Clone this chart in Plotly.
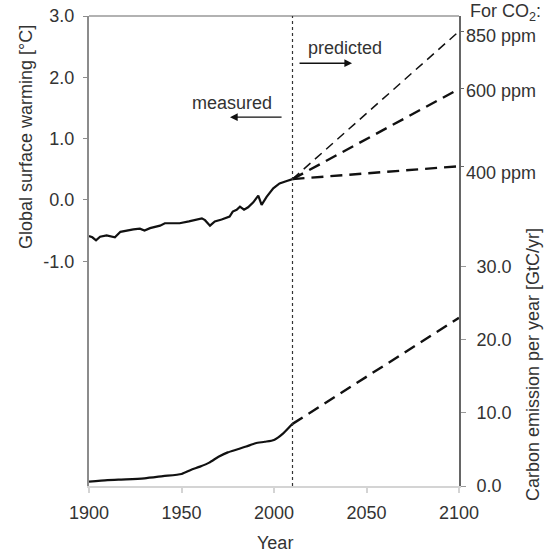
import plotly.graph_objects as go

# Measured global surface warming (°C)
temp_years = [1900, 1901.8, 1903.8, 1906, 1909.5, 1912, 1914, 1917, 1920, 1924,
              1927.5, 1930, 1933, 1935.7, 1938.4, 1941, 1944.7, 1949, 1954, 1957,
              1961, 1962.7, 1965.4, 1968, 1971.7, 1976, 1977.7, 1979.8, 1981.6,
              1983.8, 1986, 1988.8, 1991.5, 1993.3, 1996, 1999.6, 2003, 2006.9, 2010]
temp_values = [-0.59, -0.61, -0.66, -0.60, -0.58, -0.60, -0.61, -0.52, -0.50, -0.48,
               -0.47, -0.50, -0.46, -0.44, -0.42, -0.38, -0.38, -0.38, -0.35, -0.33,
               -0.30, -0.33, -0.42, -0.35, -0.32, -0.27, -0.19, -0.16, -0.11,
               -0.16, -0.12, -0.04, 0.07, -0.08, 0.05, 0.19, 0.27, 0.31, 0.34]

# Measured carbon emission (GtC/yr)
emis_years = [1900, 1910, 1920, 1930, 1940, 1950, 1955, 1960, 1965, 1970, 1975,
              1980, 1985, 1990, 1995, 2000, 2005, 2010]
emis_values = [0.6, 0.8, 0.9, 1.05, 1.35, 1.65, 2.2, 2.65, 3.2, 4.0, 4.6,
               5.0, 5.4, 5.85, 6.05, 6.3, 7.2, 8.5]

# Projections to 2100
proj_years = [2010, 2100]
emis_2100 = 23.0
co2_labels = ["850 ppm", "600 ppm", "400 ppm"]
warming_2100 = [2.75, 1.81, 0.55]

# Axis ticks
x_ticks = [1900, 1950, 2000, 2050, 2100]
temp_ticks = [-1.0, 0.0, 1.0, 2.0, 3.0]
emis_ticks = [0.0, 10.0, 20.0, 30.0]

TEMP_RANGE = [-4.666, 3.0]
EMIS_RANGE = [0, 64.3]
FONT = "Liberation Sans, Arial, sans-serif"
TXT = "#333333"
LINE = "#111111"

fig = go.Figure()

fig.add_trace(go.Scatter(x=temp_years, y=temp_values, mode="lines",
                         line=dict(color=LINE, width=2.2), yaxis="y"))
fig.add_trace(go.Scatter(x=emis_years, y=emis_values, mode="lines",
                         line=dict(color=LINE, width=2.2, shape="spline", smoothing=0.6),
                         yaxis="y2"))
fig.add_trace(go.Scatter(x=proj_years, y=[emis_values[-1], emis_2100], mode="lines",
                         line=dict(color=LINE, width=2.4, dash="12px,7px"), yaxis="y2"))

for lab, end in zip(co2_labels, warming_2100):
    thin = lab.startswith("850")
    fig.add_trace(go.Scatter(
        x=proj_years, y=[temp_values[-1], end], mode="lines",
        line=dict(color=LINE, width=1.5 if thin else 2.4,
                  dash="9px,6px" if thin else "12px,7px"),
        yaxis="y"))

# invisible trace to register the third y axis (CO2 scenario ticks)
fig.add_trace(go.Scatter(x=[1900], y=[0], yaxis="y3", mode="markers",
                         marker=dict(opacity=0), hoverinfo="skip"))


def label(text, x, y, xref="paper", yref="paper", **kw):
    d = dict(text=text, x=x, y=y, xref=xref, yref=yref, showarrow=False,
             xanchor="center", yanchor="middle", font=dict(size=18, color=TXT))
    d.update(kw)
    return d


annotations = [
    label("Global surface warming [°C]", -0.170, 0.7426, textangle=-90),
    label("Carbon emission per year [GtC/yr]", 1.20, 0.2574, textangle=-90),
    label("Year", 0.5027, -0.1213),
    label("For CO<sub>2</sub>:", 1.0243, 1.0064, xanchor="left"),
    label("measured", 1977.3, 1.58, xref="x", yref="y"),
    label("predicted", 2038.4, 2.48, xref="x", yref="y"),
    dict(text="", xref="x", yref="y", x=1976.2, y=1.35, axref="x", ayref="y",
         ax=2004.9, ay=1.35, showarrow=True, arrowhead=2, arrowsize=1.1,
         arrowwidth=1.4, arrowcolor=LINE),
    dict(text="", xref="x", yref="y", x=2042.2, y=2.23, axref="x", ayref="y",
         ax=2013.0, ay=2.23, showarrow=True, arrowhead=2, arrowsize=1.1,
         arrowwidth=1.4, arrowcolor=LINE),
]

# CO2 scenario labels beside the right axis
label_offsets = [2.675, 1.783, 0.445]
for lab, yv in zip(co2_labels, label_offsets):
    annotations.append(label(lab, 1.0135, yv, yref="y", xanchor="left"))

fig.update_layout(
    width=550, height=554,
    margin=dict(l=89, r=91, t=16, b=68),
    paper_bgcolor="white", plot_bgcolor="white",
    showlegend=False,
    font=dict(family=FONT, size=18, color=TXT),
    xaxis=dict(range=[1900, 2100], tickvals=x_ticks, tickformat="d",
               showline=True, linecolor="#d4d4d4", linewidth=2,
               ticks="outside", ticklen=5, tickcolor="#d4d4d4", tickwidth=1.5,
               showgrid=False, zeroline=False, ticklabelstandoff=4,
               automargin=False),
    yaxis=dict(range=TEMP_RANGE, tickvals=temp_ticks,
               ticktext=[f"{v:.1f}" for v in temp_ticks],
               showline=True, linecolor="#8c8c8c", linewidth=2,
               ticks="outside", ticklen=4, tickcolor="#8c8c8c",
               showgrid=False, zeroline=False, ticklabelstandoff=5,
               automargin=False),
    yaxis2=dict(range=EMIS_RANGE, overlaying="y", side="right", anchor="x",
                tickvals=emis_ticks, ticktext=[f"{v:.1f}" for v in emis_ticks],
                showline=True, linecolor="#666666", linewidth=2,
                ticks="outside", ticklen=5, tickcolor="#999999",
                showgrid=False, zeroline=False, ticklabelstandoff=7,
                automargin=False),
    yaxis3=dict(range=TEMP_RANGE, overlaying="y", side="right", anchor="x",
                tickvals=warming_2100, showticklabels=False,
                ticks="outside", ticklen=4, tickcolor="#666666",
                showline=False, showgrid=False, zeroline=False,
                automargin=False),
    annotations=annotations,
    shapes=[
        dict(type="line", xref="paper", yref="paper", x0=0, x1=1, y0=1, y1=1,
             line=dict(color="#999999", width=1.5)),
        dict(type="line", xref="x", yref="paper", x0=2010, x1=2010, y0=0, y1=1,
             line=dict(color="#333333", width=1.2, dash="dot")),
    ],
)

fig.write_html("out.html")
